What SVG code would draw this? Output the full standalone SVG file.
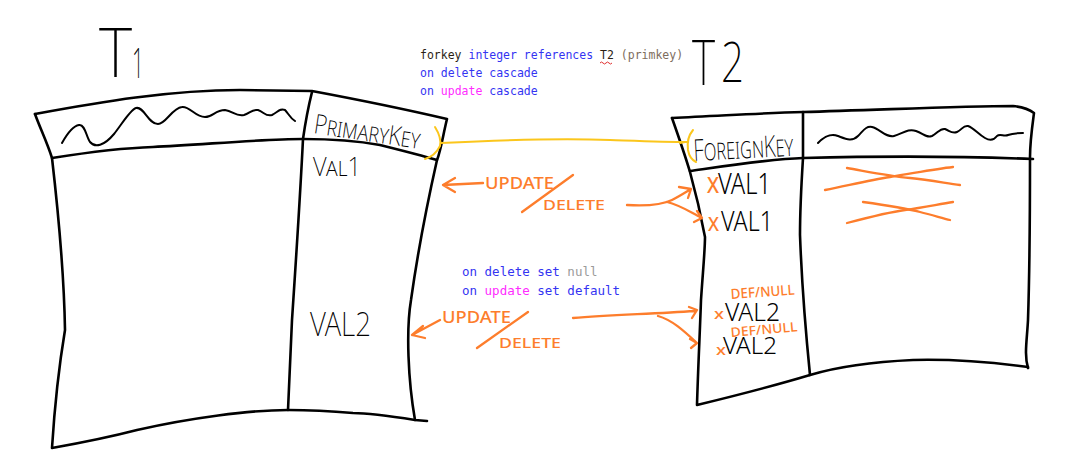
<svg xmlns="http://www.w3.org/2000/svg" width="1070" height="469" viewBox="0 0 1070 469">
<style>
.ink{fill:none;stroke:#000;stroke-width:2.6;stroke-linecap:round;stroke-linejoin:round}
.thin{fill:none;stroke:#000;stroke-width:2;stroke-linecap:round;stroke-linejoin:round}
.or{fill:none;stroke:#fd7d2c;stroke-width:2.3;stroke-linecap:round;stroke-linejoin:round}
.yl{fill:none;stroke:#fbc61c;stroke-width:2;stroke-linecap:round;stroke-linejoin:round}
.hw{font-family:"Noto Sans","Liberation Sans",sans-serif;font-weight:200;fill:#000}
.hb{font-family:"Noto Sans","Liberation Sans",sans-serif;font-weight:300;fill:#000}
.ho{font-family:"Noto Sans","Liberation Sans",sans-serif;font-weight:500;fill:#fd7d2c}
.code{font-family:"DejaVu Sans Mono","Liberation Mono",monospace;font-size:11.5px}
.code2{font-family:"DejaVu Sans Mono","Liberation Mono",monospace;font-size:12.5px}
.bl{fill:#3434f2}.mg{fill:#ff2bff}.dk{fill:#2a1e14}.br{fill:#7d6d5d}.gr{fill:#9a9a9a}
</style>
<g id="title-t1"><text class="hw" y="77"><tspan x="99" font-size="68" textLength="33" lengthAdjust="spacingAndGlyphs">T</tspan><tspan x="132" y="78" font-size="42" textLength="12" lengthAdjust="spacingAndGlyphs">1</tspan></text></g>
<g id="title-t2"><text class="hw" y="85"><tspan x="692" font-size="62" textLength="23" lengthAdjust="spacingAndGlyphs">T</tspan><tspan x="721" y="82" font-size="56" textLength="23" lengthAdjust="spacingAndGlyphs">2</tspan></text></g>

<g id="code-1">
<text class="code" x="420" y="59"><tspan class="dk">forkey</tspan><tspan class="bl"> integer references </tspan><tspan class="dk">T2</tspan><tspan class="br"> (primkey)</tspan></text>
<path d="M600,63 q1.5,-2 3,0 t3,0 t3,0 t3,0" fill="none" stroke="#e03030" stroke-width="1"/>
<text class="code bl" x="420" y="77">on delete cascade</text>
<text class="code" x="420" y="95"><tspan class="bl">on </tspan><tspan class="mg">update</tspan><tspan class="bl"> cascade</tspan></text>
</g>
<g id="code-2">
<text class="code2" x="462" y="276"><tspan class="bl">on delete set </tspan><tspan class="gr">null</tspan></text>
<text class="code2" x="462" y="295"><tspan class="bl">on </tspan><tspan class="mg">update</tspan><tspan class="bl"> set default</tspan></text>
</g>

<g id="table-t1">
<path class="ink" d="M35,114 C 100,102 170,90 240,90 L312,91 C 360,100 400,108 447,119 C 443,135 441,150 437,160 C 428,200 418,250 411,300 C 406,330 408,380 415,420 L427,421"/>
<path class="ink" d="M415,420 C 390,416 370,413 353,413 C 330,411 300,410 288,410 C 250,410 190,418 137,430 C 110,437 80,443 52,448 C 55,400 60,360 65,330 C 64,270 58,210 52,158 C 47,142 40,128 35,114"/>
<path class="ink" d="M52,158 C 90,152 120,148 153,147 C 200,145 260,139 303,139 C 330,139 353,140 380,145 C 400,150 420,155 437,160"/>
<path class="ink" d="M312,92 C 308,108 305,125 303,139 C 300,200 296,260 292,320 C 290,360 289,390 288,410"/>
<path class="thin" d="M62,143 C 67,134 73,126 79,125 C 85,124 86,136 90,142 C 95,148 104,146 114,134 C 122,124 130,110 136,108 C 144,106 148,124 158,124 C 166,124 172,108 182,107 C 190,106 195,117 205,117 C 213,117 215,110 225,110 C 233,111 236,117 244,115 C 250,113 252,109 258,110 C 264,112 266,117 272,115 C 278,112 280,108 285,110 C 288,113 290,118 295,121"/>
<text class="hw" font-variant="small-caps" font-size="27" x="313" y="133" textLength="107" lengthAdjust="spacingAndGlyphs" transform="rotate(8.5 313 133)">PrimaryKey</text>
<text class="hw" font-variant="small-caps" font-size="26" x="313" y="176" textLength="48" lengthAdjust="spacingAndGlyphs">Val1</text>
<text class="hw" font-size="33" x="310" y="336" textLength="61" lengthAdjust="spacingAndGlyphs">VAL2</text>
</g>

<g id="table-t2">
<path class="ink" d="M672,118 C 720,116 760,113 803,112 C 880,110 960,106 1013,106 C 1022,107 1030,110 1034,113 C 1032,128 1030,142 1030,157 C 1030,200 1030,260 1028,320 C 1027,340 1024,355 1028,368"/>
<path class="ink" d="M1028,367 C 990,362 950,359 913,360 C 870,362 840,366 810,375 C 770,387 730,397 697,405 C 698,370 700,330 701,300 C 703,270 705,250 705,237 C 700,210 695,190 690,172 C 685,155 678,135 672,118"/>
<path class="ink" d="M690,171 C 725,166 770,159 803,158 C 880,156 960,156 1033,159"/>
<path class="ink" d="M803,112 C 803,128 803,143 803,158 C 801,190 800,210 800,235 C 802,290 806,335 810,375"/>
<path class="thin" d="M818,143 C 824,137 830,133 838,136 C 846,139 852,142 858,136 C 864,130 866,126 872,127 C 880,129 886,138 894,136 C 902,134 908,128 916,131 C 924,134 926,138 932,136 C 938,133 940,128 945,129 C 950,131 952,134 957,132 C 962,130 963,125 968,126 C 974,128 978,134 985,138 C 990,141 994,140 997,136 C 1000,133 1004,137 1008,135 C 1013,133 1018,133 1023,133"/>
<text class="hw" font-variant="small-caps" font-size="30" x="694" y="161" textLength="100" lengthAdjust="spacingAndGlyphs" transform="rotate(-3 694 161)">ForeignKey</text>
<text class="ho" font-size="21" x="707" y="193" textLength="12" lengthAdjust="spacingAndGlyphs">X</text>
<text class="hb" font-size="29" x="718" y="194" textLength="53" lengthAdjust="spacingAndGlyphs">VAL1</text>
<text class="ho" font-size="20" x="708" y="231" textLength="11" lengthAdjust="spacingAndGlyphs">X</text>
<text class="hb" font-size="27" x="721" y="231" textLength="52" lengthAdjust="spacingAndGlyphs">VAL1</text>
<text class="ho" font-size="14" x="731" y="299" textLength="64" lengthAdjust="spacingAndGlyphs" transform="rotate(-4 731 299)">DEF/NULL</text>
<text class="ho" font-size="15" x="714" y="319" textLength="10" lengthAdjust="spacingAndGlyphs">x</text>
<text class="hb" font-size="25" x="725" y="321" textLength="55" lengthAdjust="spacingAndGlyphs">VAL2</text>
<text class="ho" font-size="13" x="731" y="337" textLength="67" lengthAdjust="spacingAndGlyphs" transform="rotate(-5 731 337)">DEF/NULL</text>
<text class="ho" font-size="15" x="716" y="355" textLength="10" lengthAdjust="spacingAndGlyphs">x</text>
<text class="hb" font-size="24" x="723" y="354" textLength="54" lengthAdjust="spacingAndGlyphs">VAL2</text>
<path class="or" d="M847,168 C 870,172 890,176 910,178 C 930,180 945,183 960,185"/>
<path class="or" d="M825,190 C 850,185 870,180 890,177 C 915,173 935,169 953,167"/>
<path class="or" d="M863,202 C 885,205 905,208 920,212 C 932,215 942,218 950,220"/>
<path class="or" d="M847,223 C 870,217 890,212 905,210 C 925,207 940,204 953,202"/>
</g>

<g id="connectors">
<path class="yl" d="M435,127 C 440,135 441,142 440,146 C 437,152 432,157 425,159"/>
<path class="yl" d="M441,143 C 500,140 560,138 610,140 C 640,141 665,142 688,142"/>
<path class="yl" d="M693,130 C 688,136 687,143 688,150 C 689,156 692,160 696,162"/>
<path class="yl" d="M680,143 L685,142"/>
<path class="or" d="M483,183 L443,185 M455,178 L443,185 L455,192"/>
<path class="or" d="M573,175 L522,212"/>
<path class="or" d="M627,205 C 645,206 662,205 672,200 C 680,196 686,192 691,189 M679,187 L691,189 L688,198"/>
<path class="or" d="M667,202 C 680,205 690,212 702,218 M697,211 L702,218 L694,222"/>
<path class="or" d="M440,320 L412,335 M423,326 L412,335 L425,338"/>
<path class="or" d="M528,312 L477,348"/>
<path class="or" d="M573,318 C 610,315 650,314 695,311 M689,307 L697,310 L692,318"/>
<path class="or" d="M658,316 C 672,320 683,330 697,343 M690,339 L697,343 L691,348"/>
<text class="ho" font-size="17" x="485" y="189" textLength="69" lengthAdjust="spacingAndGlyphs">UPDATE</text>
<text class="ho" font-size="15" x="543" y="210" textLength="62" lengthAdjust="spacingAndGlyphs">DELETE</text>
<text class="ho" font-size="17" x="442" y="323" textLength="69" lengthAdjust="spacingAndGlyphs">UPDATE</text>
<text class="ho" font-size="15" x="499" y="348" textLength="62" lengthAdjust="spacingAndGlyphs">DELETE</text>
</g>
</svg>
